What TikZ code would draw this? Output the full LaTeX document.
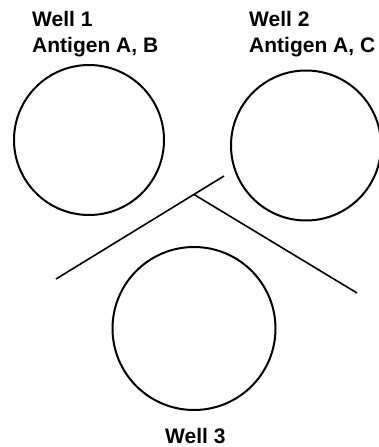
\documentclass[tikz,border=0pt]{standalone}
\usepackage{fontspec}
\setmainfont{Liberation Sans}
\usetikzlibrary{calc}
\begin{document}
\begin{tikzpicture}[x=1pt,y=-1pt,
  well/.style={draw=black,line width=2pt,circle,inner sep=0pt},
  lab/.style={anchor=base west,inner sep=0pt,font=\fontsize{21}{26}\selectfont\bfseries,align=left},
  ridge/.style={draw=black,line width=1.6pt}]
\useasboundingbox (0,0) rectangle (379,447);
\node[well,minimum size=150pt] (w1) at (89,140) {};
\node[well,minimum size=150pt] (w2) at (306,145.5) {};
\node[well,minimum size=163pt] (w3) at (194,328.5) {};
\node[lab] (l1) at (32,26) {Well 1};
\node[lab] (l1b) at (32,52) {Antigen A, B};
\node[lab] (l2) at (249,26) {Well 2};
\node[lab] (l2b) at (249,52) {Antigen A, C};
\node[lab] (l3) at (165,443) {Well 3};
\coordinate (a1) at (56,279);
\coordinate (a2) at (224,176);
\coordinate (b1) at ($(a1)!0.821!(a2)$);
\coordinate (b2) at (357,293);
\draw[ridge] (a1) -- (a2);
\draw[ridge] (b1) -- (b2);
\end{tikzpicture}
\end{document}
